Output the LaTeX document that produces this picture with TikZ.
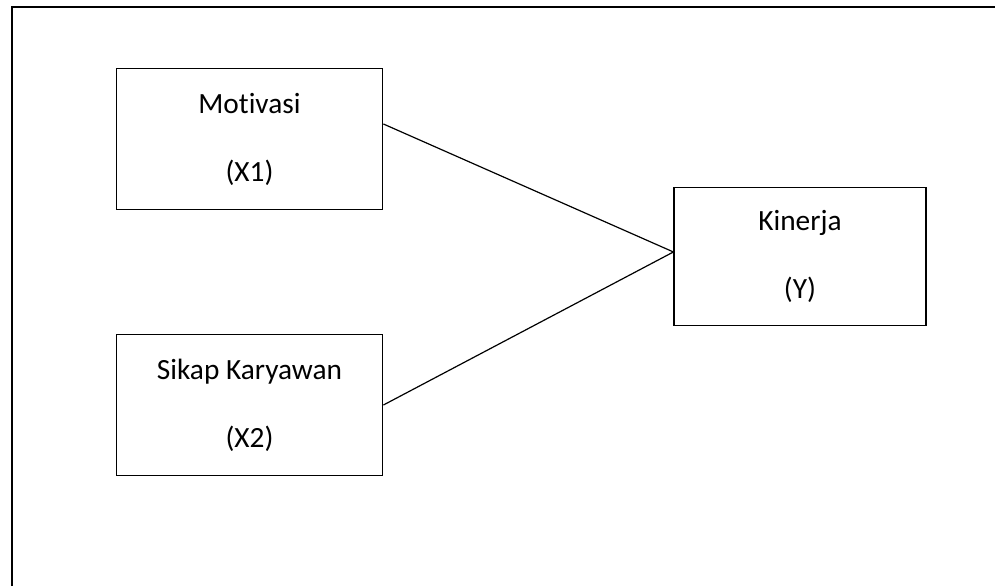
\documentclass[tikz,border=0pt]{standalone}
\usepackage{fontspec}
\setmainfont[Ligatures=NoCommon]{Carlito}
\begin{document}
\begin{tikzpicture}[x=0.75pt,y=-0.75pt,line width=0.9pt,font=\fontsize{22}{51}\selectfont,
		box/.style={draw,rectangle,align=center,inner sep=0pt,minimum width=200pt,minimum height=106pt}]
			\useasboundingbox (0,0) rectangle (995,586);
			\draw[line width=1.1pt] (12,586)--(12,7)--(995,7);
			\node[box] (mot) at (249.5,139) {Motivasi\\(X1)};
			\node[box] (sik) at (249.5,405) {Sikap Karyawan\\(X2)};
			\node[box,minimum width=189pt,minimum height=103pt] (kin) at (800,256.5) {Kinerja\\(Y)};
			\draw ([yshift=11.25pt]mot.east)--([yshift=3.4pt]kin.west);
			\draw (sik.east)--([yshift=3.4pt]kin.west);
	\end{tikzpicture}
\end{document}
